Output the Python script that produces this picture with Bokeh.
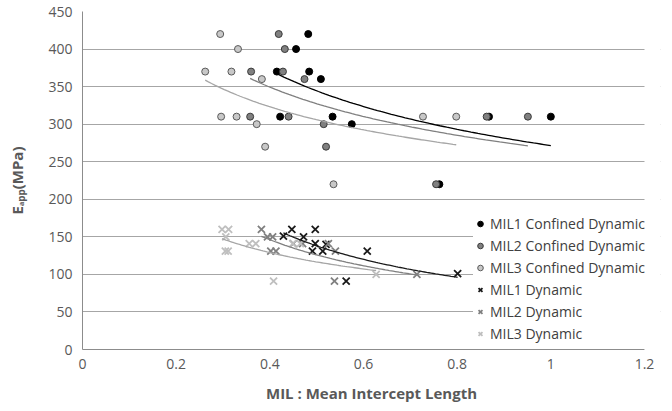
import numpy as np
from bokeh.plotting import figure
from bokeh.models import Range1d, Legend, LegendItem, FixedTicker, BoxAnnotation
from bokeh.embed import file_html
from bokeh.resources import INLINE

# ---------------- data ----------------
mil1_conf_x = [0.482, 0.456, 0.415, 0.484, 0.509, 0.422, 0.534, 0.575, 0.868, 1.0, 0.762]
mil1_conf_y = [420, 400, 370, 370, 360, 310, 310, 300, 310, 310, 220]
mil2_conf_x = [0.419, 0.432, 0.360, 0.428, 0.474, 0.358, 0.440, 0.515, 0.520, 0.755, 0.863, 0.951]
mil2_conf_y = [420, 400, 370, 370, 360, 310, 310, 300, 270, 220, 310, 310]
mil3_conf_x = [0.294, 0.332, 0.262, 0.318, 0.383, 0.296, 0.329, 0.372, 0.390, 0.536, 0.727, 0.798]
mil3_conf_y = [420, 400, 370, 370, 360, 310, 310, 300, 270, 220, 310, 310]

mil1_dyn_x = [0.429, 0.447, 0.472, 0.497, 0.497, 0.491, 0.513, 0.520, 0.563, 0.608, 0.801]
mil1_dyn_y = [151, 160, 150, 160, 141, 131, 131, 140, 91, 131, 101]
mil2_dyn_x = [0.382, 0.395, 0.406, 0.402, 0.413, 0.450, 0.470, 0.525, 0.540, 0.538, 0.714]
mil2_dyn_y = [160, 150, 150, 131, 131, 141, 141, 141, 131, 91, 100]
mil3_dyn_x = [0.298, 0.312, 0.306, 0.305, 0.311, 0.356, 0.370, 0.408, 0.449, 0.465, 0.627]
mil3_dyn_y = [160, 160, 150, 131, 131, 141, 141, 91, 141, 141, 100]

x_ticks = [0, 0.2, 0.4, 0.6, 0.8, 1.0, 1.2]
x_tick_labels = ["0", "0.2", "0.4", "0.6", "0.8", "1", "1.2"]
y_ticks = [0, 50, 100, 150, 200, 250, 300, 350, 400, 450]
x_max = 1.2

series_names = ["MIL1 Confined Dynamic", "MIL2 Confined Dynamic", "MIL3 Confined Dynamic",
                "MIL1 Dynamic", "MIL2 Dynamic", "MIL3 Dynamic"]


def power_fit(xs, ys, n=80):
    xs = np.asarray(xs, float)
    ys = np.asarray(ys, float)
    b, lna = np.polyfit(np.log(xs), np.log(ys), 1)
    xx = np.linspace(xs.min(), xs.max(), n)
    return xx, np.exp(lna) * xx ** b


FONT = "Open Sans"
TXT = "#595959"

# frame extends a little past 1.2 (hidden) so the legend, which overhangs the
# plot area in the reference, is not clipped
W, H = 664, 409
LEFT, RIGHT_EXTRA = 82, 4
plot_px_for_xmax = 562
frame_w = W - LEFT - RIGHT_EXTRA
x_end = x_max * frame_w / plot_px_for_xmax

p = figure(width=W, height=H, output_backend="svg", toolbar_location=None,
           x_range=Range1d(0, x_end), y_range=Range1d(0, 450),
           min_border_left=LEFT, min_border_right=RIGHT_EXTRA, min_border_top=11, min_border_bottom=60)
p.outline_line_color = None
p.background_fill_color = "white"
p.xgrid.grid_line_color = None
p.ygrid.grid_line_color = "#a6a6a6"
p.ygrid.grid_line_width = 1

p.xaxis.ticker = FixedTicker(ticks=x_ticks)
p.xaxis.major_label_overrides = {t: l for t, l in zip(x_ticks, x_tick_labels)}
p.xaxis.bounds = (0, x_max)
p.yaxis.ticker = FixedTicker(ticks=y_ticks)
for ax in (p.xaxis, p.yaxis):
    ax.axis_line_color = "#8c8c8c"
    ax.major_tick_line_color = None
    ax.minor_tick_line_color = None
    ax.major_tick_in = 0
    ax.major_tick_out = 0
    ax.major_label_text_font = FONT
    ax.major_label_text_font_size = "14px"
    ax.major_label_text_color = TXT
p.yaxis.major_label_standoff = 10
p.xaxis.major_label_standoff = 9

p.xaxis.axis_label = "MIL : Mean Intercept Length"
p.xaxis.axis_label_text_font = FONT
p.xaxis.axis_label_text_font_style = "bold"
p.xaxis.axis_label_text_font_size = "15px"
p.xaxis.axis_label_text_color = TXT
p.xaxis.axis_label_standoff = 11

p.yaxis.axis_label = "E\u2090\u209a\u209a(MPa)"
p.yaxis.axis_label_text_font = FONT
p.yaxis.axis_label_text_font_style = "bold"
p.yaxis.axis_label_text_font_size = "15px"
p.yaxis.axis_label_text_color = TXT
p.yaxis.axis_label_standoff = 18

# white mask over the hidden strip right of 1.2
p.add_layout(BoxAnnotation(left=x_max, fill_color="white", fill_alpha=1, line_color=None))

conf = [
    (mil1_conf_x, mil1_conf_y, "#000000", "#000000", "#000000"),
    (mil2_conf_x, mil2_conf_y, "#808080", "#3a3a3a", "#7f7f7f"),
    (mil3_conf_x, mil3_conf_y, "#c8c8c8", "#5a5a5a", "#a6a6a6"),
]
dyn = [
    (mil1_dyn_x, mil1_dyn_y, "#1a1a1a", "#1a1a1a"),
    (mil2_dyn_x, mil2_dyn_y, "#808080", "#7f7f7f"),
    (mil3_dyn_x, mil3_dyn_y, "#bfbfbf", "#a6a6a6"),
]

renderers = []
for xs, ys, fill, line, tl in conf:
    r = p.scatter(xs, ys, marker="circle", size=7, fill_color=fill, line_color=line, line_width=1)
    renderers.append(r)
for xs, ys, col, tl in dyn:
    r = p.scatter(xs, ys, marker="x", size=10, line_color=col, line_width=1.8)
    renderers.append(r)

for xs, ys, fill, line, tl in conf:
    fx, fy = power_fit(xs, ys)
    p.line(fx, fy, line_color=tl, line_width=1.3)
for xs, ys, col, tl in dyn:
    fx, fy = power_fit(xs, ys)
    p.line(fx, fy, line_color=tl, line_width=1.3)

legend = Legend(items=[LegendItem(label=n, renderers=[r]) for n, r in zip(series_names, renderers)],
                location=(391, 6), orientation="vertical")
legend.border_line_color = None
legend.background_fill_color = "white"
legend.background_fill_alpha = 1
legend.margin = 0
legend.padding = 5
legend.spacing = 3
legend.glyph_width = 14
legend.glyph_height = 19
legend.label_height = 19
legend.label_standoff = 3
legend.label_text_font = FONT
legend.label_text_font_size = "14px"
legend.label_text_color = "#404040"
p.add_layout(legend, "center")

open("out.html", "w").write(file_html(p, INLINE))
